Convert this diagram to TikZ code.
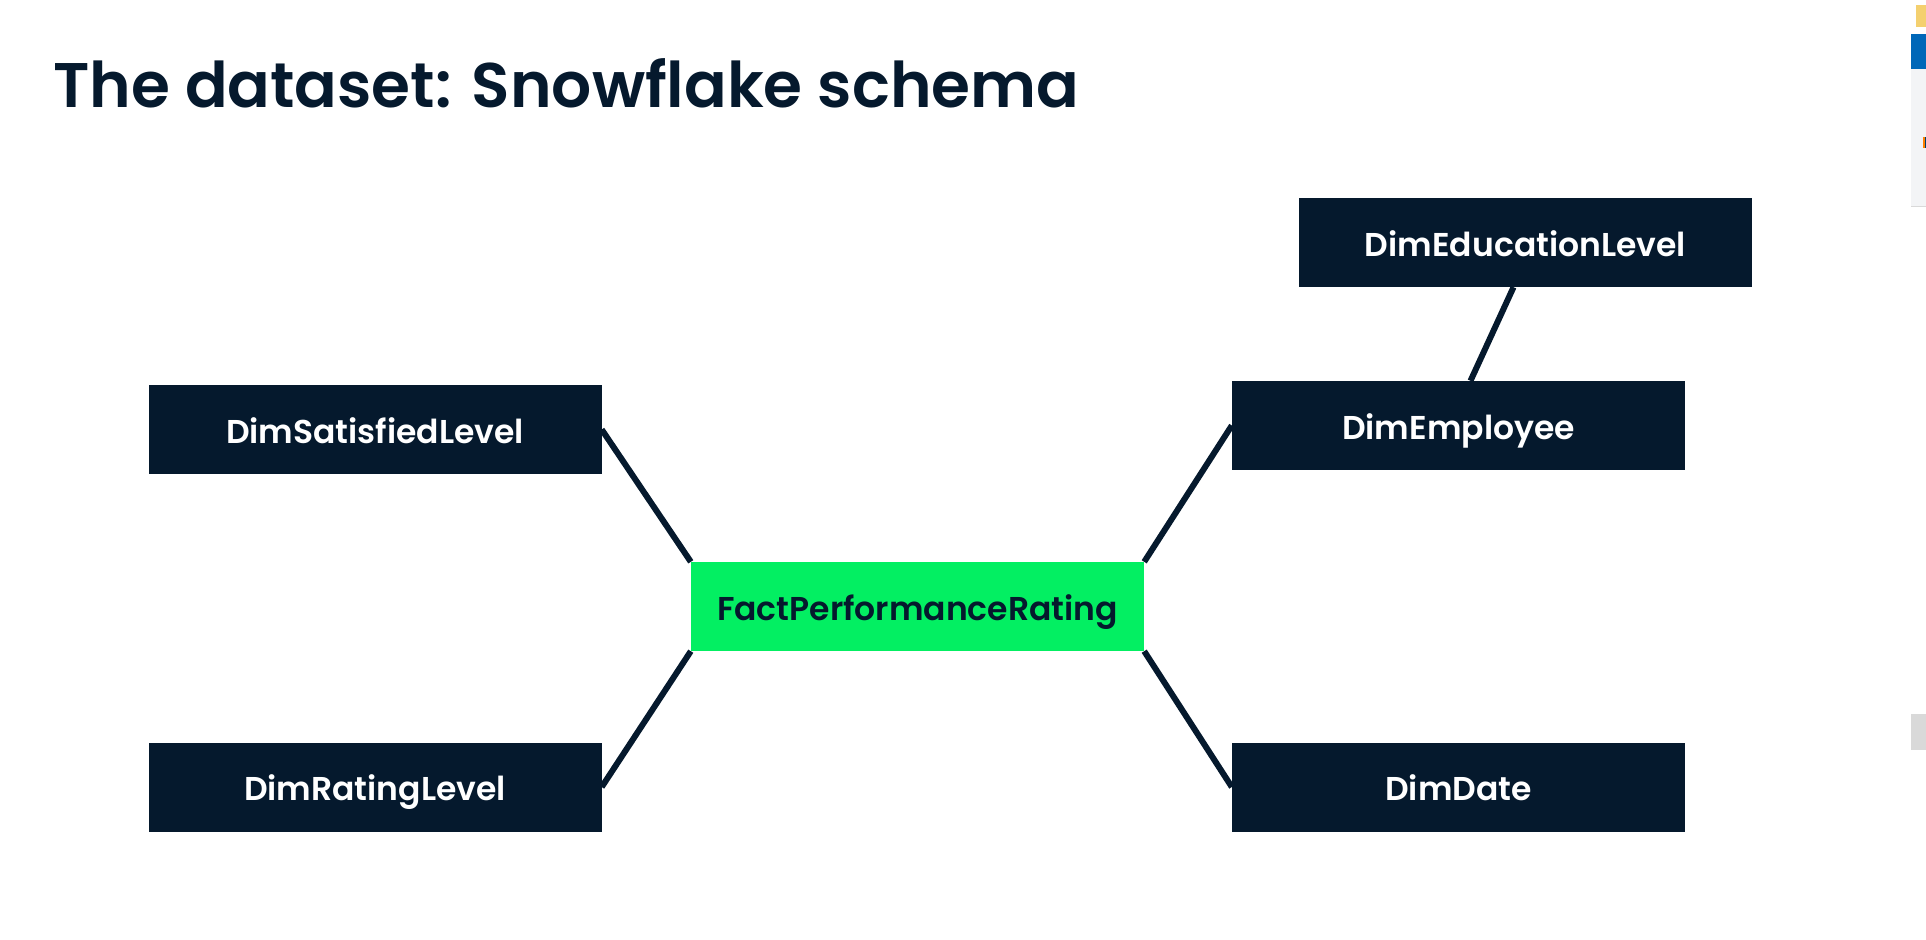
\documentclass[tikz,border=0pt]{standalone}
\usepackage{fontspec}
\setmainfont{Poppins}[UprightFont=* Medium, BoldFont=* SemiBold]
\definecolor{navy}{HTML}{05192D}
\definecolor{dcgreen}{HTML}{03EF62}
\definecolor{winblue}{HTML}{0067B8}
\definecolor{panelgrey}{HTML}{F3F4F6}
\definecolor{boxgrey}{HTML}{D9D9D9}
\definecolor{folder}{HTML}{F4D06F}
\tikzset{
  boxbase/.style={minimum width=453pt, minimum height=89pt, inner sep=0pt, text height=29pt, text depth=2pt, font=\fontsize{33}{38}\selectfont\bfseries},
  dimbox/.style={boxbase, fill=navy, text=white},
  factbox/.style={boxbase, fill=dcgreen, text=navy},
  link/.style={draw=navy, line width=6pt},
  titletext/.style={anchor=base west, text=navy, inner sep=0pt, font=\fontsize{63}{72}\selectfont\bfseries}
}
\begin{document}
\begin{tikzpicture}[x=1pt,y=-1pt]
\useasboundingbox (0,0) rectangle (1926,939);
\fill[white] (0,0) rectangle (1926,939);
% screenshot edge artifacts
\fill[folder] (1916,5) rectangle (1926,27);
\fill[winblue] (1911,34) rectangle (1926,69);
\fill[panelgrey] (1911,69) rectangle (1926,206);
\draw[boxgrey, line width=1pt] (1911,206) -- (1926,206);
\fill[orange] (1923,137) rectangle (1924.5,148);
\fill[winblue!60!black] (1924.5,137) rectangle (1926,148);
\fill[boxgrey] (1911,714) rectangle (1926,750);

\node[titletext] (title) at (53,108) {The dataset: Snowflake schema};

\node[dimbox] (edu)  at (1525.5,242.5) {DimEducationLevel};
\node[dimbox] (sat)  at (375,429.5)    {DimSatisfiedLevel};
\node[dimbox] (emp)  at (1458.5,425.5) {DimEmployee};
\node[factbox] (fact) at (917.5,606.5) {FactPerformanceRating};
\node[dimbox] (rat)  at (375,787)      {DimRatingLevel};
\node[dimbox] (date) at (1458.5,787)   {DimDate};

\draw[link] (sat.east) -- (fact.north west);
\draw[link] (rat.east) -- (fact.south west);
\draw[link] (emp.west) -- (fact.north east);
\draw[link] (date.west) -- (fact.south east);
\draw[link] ([xshift=-12pt]edu.south) -- ([xshift=12pt]emp.north);
\end{tikzpicture}
\end{document}
